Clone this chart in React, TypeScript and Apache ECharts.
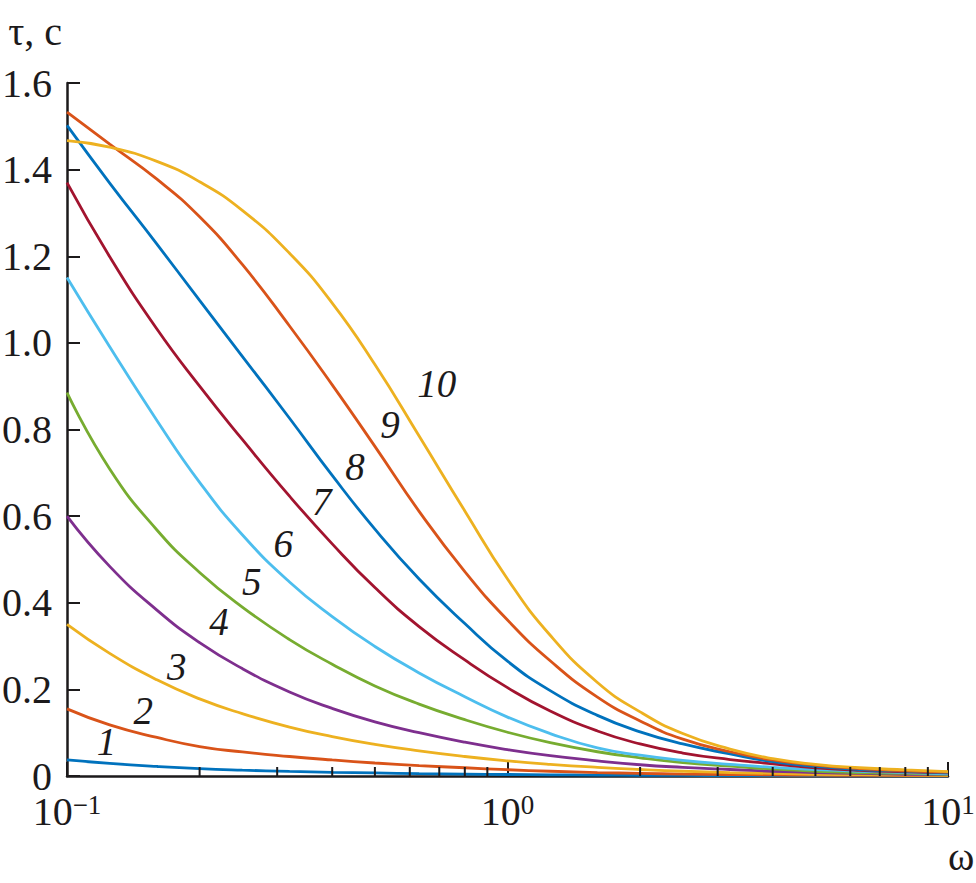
import React, { useEffect, useRef } from "react";
import * as echarts from "echarts";

// ω grid (log axis, ~0.1 decade steps) shared by all curves
const OMEGA = [0.1, 0.125, 0.16, 0.2, 0.25, 0.32, 0.4, 0.5, 0.63, 0.8, 1, 1.25, 1.6, 2, 2.5, 3.2, 4, 5, 6.3, 8, 10];

// τ, c for curves 1..10
const T1 = [0.037, 0.029, 0.022, 0.017, 0.0135, 0.0105, 0.0085, 0.007, 0.0055, 0.0045, 0.0035, 0.0028, 0.0022, 0.0017, 0.0013, 0.001, 0.0008, 0.0006, 0.0005, 0.0004, 0.0003];
const T2 = [0.155, 0.118, 0.089, 0.068, 0.0555, 0.045, 0.037, 0.03, 0.024, 0.019, 0.0145, 0.011, 0.008, 0.006, 0.0045, 0.0035, 0.0025, 0.002, 0.0015, 0.001, 0.0008];
const T3 = [0.35, 0.283, 0.222, 0.178, 0.144, 0.113, 0.091, 0.073, 0.058, 0.045, 0.035, 0.027, 0.02, 0.015, 0.011, 0.008, 0.006, 0.004, 0.003, 0.002, 0.0015];
const T4 = [0.6, 0.484, 0.383, 0.308, 0.248, 0.194, 0.156, 0.125, 0.1, 0.078, 0.061, 0.047, 0.035, 0.026, 0.02, 0.015, 0.011, 0.008, 0.006, 0.004, 0.003];
const T5 = [0.885, 0.709, 0.568, 0.47, 0.39, 0.315, 0.258, 0.208, 0.166, 0.13, 0.101, 0.077, 0.056, 0.042, 0.031, 0.023, 0.016, 0.011, 0.008, 0.006, 0.004];
const T6 = [1.151, 0.991, 0.821, 0.678, 0.557, 0.448, 0.368, 0.299, 0.238, 0.183, 0.136, 0.098, 0.065, 0.048, 0.036, 0.027, 0.02, 0.015, 0.011, 0.008, 0.005];
const T7 = [1.37, 1.199, 1.032, 0.9, 0.777, 0.646, 0.536, 0.435, 0.345, 0.268, 0.204, 0.15, 0.104, 0.074, 0.053, 0.038, 0.028, 0.019, 0.013, 0.0095, 0.007];
const T8 = [1.502, 1.369, 1.228, 1.098, 0.969, 0.826, 0.694, 0.57, 0.455, 0.352, 0.265, 0.197, 0.14, 0.102, 0.074, 0.051, 0.033, 0.022, 0.015, 0.011, 0.008];
const T9 = [1.533, 1.459, 1.378, 1.291, 1.181, 1.039, 0.903, 0.761, 0.611, 0.472, 0.36, 0.266, 0.182, 0.127, 0.085, 0.056, 0.037, 0.025, 0.017, 0.012, 0.009];
const T10 = [1.467, 1.452, 1.419, 1.372, 1.306, 1.207, 1.092, 0.95, 0.785, 0.612, 0.455, 0.325, 0.216, 0.148, 0.098, 0.062, 0.04, 0.027, 0.019, 0.014, 0.01];

const CURVES = [T1, T2, T3, T4, T5, T6, T7, T8, T9, T10];
const CURVE_NAMES = ["1", "2", "3", "4", "5", "6", "7", "8", "9", "10"];
const COLORS = ["#0072BD", "#D95319", "#EDB120", "#7E2F8E", "#77AC30", "#4DBEEE", "#A2142F", "#0072BD", "#D95319", "#EDB120"];

// curve label anchors [ω, τ]
const LABEL_OMEGA = [0.123, 0.149, 0.1775, 0.2213, 0.2627, 0.3097, 0.3786, 0.4506, 0.541, 0.691];
const LABEL_TAU = [0.079, 0.152, 0.2524, 0.3557, 0.4487, 0.5374, 0.6335, 0.7143, 0.8106, 0.907];

// minor ticks on the log ω axis
const MINOR_TICKS = [0.2, 0.3, 0.4, 0.5, 0.6, 0.7, 0.8, 0.9, 2, 3, 4, 5, 6, 7, 8, 9];

const INK = "#1c1a1b";
const FONT = "Liberation Serif";

export default function App() {
  const ref = useRef<HTMLDivElement>(null);
  useEffect(() => {
    document.body.style.margin = "0";
    if (!ref.current) return;
    const chart = echarts.init(ref.current, undefined, { renderer: "svg" });

    const lineSeries = CURVES.map((vals, i) => ({
      type: "line",
      name: CURVE_NAMES[i],
      data: OMEGA.map((w, j) => [w, vals[j]]),
      showSymbol: false,
      smooth: 0.5,
      lineStyle: { color: COLORS[i], width: 2.8 },
      itemStyle: { color: COLORS[i] },
      z: 3,
      silent: true,
    }));

    const option: any = {
      animation: false,
      backgroundColor: "#ffffff",
      textStyle: { fontFamily: FONT },
      grid: { left: 67, right: 28, top: 83, bottom: 107, containLabel: false, outerBoundsMode: "none" },
      xAxis: {
        type: "log",
        logBase: 10,
        min: 0.1,
        max: 10,
        name: "ω",
        nameLocation: "end",
        nameGap: 0,
        nameTextStyle: {
          fontFamily: FONT,
          fontSize: 40,
          color: INK,
          align: "left",
          verticalAlign: "top",
          padding: [60, 0, 0, 0],
        },
        axisLine: { show: true, lineStyle: { color: INK, width: 2.5 } },
        axisTick: { show: true, inside: true, length: 14, lineStyle: { color: INK, width: 2 } },
        minorTick: { show: false },
        splitLine: { show: false },
        axisLabel: {
          margin: 15,
          showMinLabel: true,
          showMaxLabel: true,
          hideOverlap: false,
          formatter: (v: number) => {
            const e = Math.round(Math.log10(v));
            return `{b|10}{s|${e < 0 ? "−" : ""}${Math.abs(e)}}`;
          },
          rich: {
            b: { fontFamily: FONT, fontSize: 40, color: INK, lineHeight: 40, verticalAlign: "bottom" },
            s: { fontFamily: FONT, fontSize: 27, color: INK, lineHeight: 20, verticalAlign: "top" },
          },
        },
      },
      yAxis: {
        type: "value",
        min: 0,
        max: 1.6,
        interval: 0.2,
        name: "τ, c",
        nameLocation: "end",
        nameGap: 32,
        nameTextStyle: {
          fontFamily: FONT,
          fontSize: 40,
          color: INK,
          align: "right",
          verticalAlign: "bottom",
          padding: [0, 5, 0, 0],
        },
        axisLine: { show: true, lineStyle: { color: INK, width: 2.5 } },
        axisTick: { show: true, inside: true, length: 13, lineStyle: { color: INK, width: 2 } },
        splitLine: { show: false },
        axisLabel: {
          margin: 15,
          fontFamily: FONT,
          fontSize: 40,
          lineHeight: 30,
          color: INK,
          formatter: (v: number) => (v === 0 ? "0" : v.toFixed(1)),
        },
      },
      series: [
        ...lineSeries,
        {
          type: "custom",
          name: "minorTicks",
          silent: true,
          clip: false,
          z: 4,
          data: MINOR_TICKS.map((v) => [v, 0]),
          encode: { x: 0, y: 1 },
          renderItem: (params: any, api: any) => {
            const p = api.coord([api.value(0), 0]);
            return {
              type: "line",
              shape: { x1: p[0], y1: p[1], x2: p[0], y2: p[1] - 9 },
              style: { stroke: INK, lineWidth: 2 },
            };
          },
        },
        {
          type: "scatter",
          name: "curveLabels",
          silent: true,
          z: 5,
          symbolSize: 0,
          itemStyle: { color: INK },
          data: LABEL_OMEGA.map((w, i) => [w, LABEL_TAU[i], CURVE_NAMES[i]]),
          label: {
            show: true,
            position: "inside",
            formatter: (p: any) => p.data[2],
            fontFamily: FONT,
            fontStyle: "italic",
            fontSize: 39,
            color: INK,
            opacity: 1,
            textBorderWidth: 0,
          },
        },
      ],
    };
    chart.setOption(option);
    return () => chart.dispose();
  }, []);
  return <div ref={ref} style={{ width: 976, height: 883 }} />;
}
